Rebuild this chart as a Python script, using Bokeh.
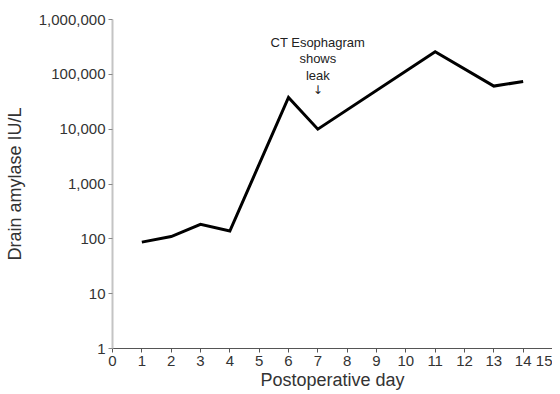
from bokeh.plotting import figure
from bokeh.models import FixedTicker, NumeralTickFormatter, Label
from bokeh.embed import file_html
from bokeh.resources import INLINE

days = [1, 2, 3, 4, 6, 7, 11, 13, 14]
amylase = [87, 110, 184, 139, 38000, 10000, 258000, 61000, 74000]
x_ticks = list(range(0, 16))
y_ticks = [1, 10, 100, 1000, 10000, 100000, 1000000]
note_text = "CT Esophagram\nshows\nleak"
note_arrow = "\u2193"
note_day = 7
note_top = 530000
arrow_level = 52000

FONT = "Liberation Sans"

p = figure(width=552, height=392, output_backend="svg", toolbar_location=None,
           y_axis_type="log", x_range=(0, 15), y_range=(1, 1000000),
           min_border_left=112, min_border_right=0, min_border_top=19,
           min_border_bottom=40)
p.outline_line_color = None
p.grid.visible = False
p.background_fill_color = "white"
p.border_fill_color = "white"

p.line(days, amylase, line_color="black", line_width=3, line_join="miter")

p.xaxis.ticker = FixedTicker(ticks=x_ticks)
p.yaxis.ticker = FixedTicker(ticks=y_ticks, minor_ticks=[])
p.yaxis.formatter = NumeralTickFormatter(format="0,0")

for ax in (p.xaxis[0], p.yaxis[0]):
    ax.major_label_text_font = FONT
    ax.major_label_text_font_size = "15px"
    ax.major_label_text_color = "#333333"
    ax.major_label_text_line_height = 1.0
    ax.axis_label_text_font = FONT
    ax.axis_label_text_font_size = "18px"
    ax.axis_label_text_font_style = "normal"
    ax.axis_label_text_color = "#333333"
    ax.axis_label_text_line_height = 1.0
    ax.major_tick_in = 0
    ax.major_tick_out = 4
    ax.minor_tick_in = 0
    ax.minor_tick_out = 0

p.xaxis.axis_label = "Postoperative day"
p.yaxis.axis_label = "Drain amylase IU/L"
p.xaxis.axis_line_color = "#555555"
p.xaxis.major_tick_line_color = "#555555"
p.yaxis.axis_line_color = "#c4c4c4"
p.yaxis.axis_line_width = 2
p.yaxis.major_tick_line_color = "#888888"
p.xaxis.major_label_standoff = 3
p.yaxis.major_label_standoff = 3
p.xaxis.axis_label_standoff = 1
p.yaxis.axis_label_standoff = 11

note = Label(x=note_day, y=note_top, text=note_text, text_align="center",
             text_baseline="top", text_font=FONT, text_font_size="13px",
             text_color="#222222", text_line_height=1.1)
p.add_layout(note)
arrow = Label(x=note_day, y=arrow_level, text=note_arrow, text_align="center",
              text_baseline="middle", text_font="DejaVu Sans", text_font_size="12px",
              text_color="#222222")
p.add_layout(arrow)

open("out.html", "w").write(file_html(p, INLINE))
